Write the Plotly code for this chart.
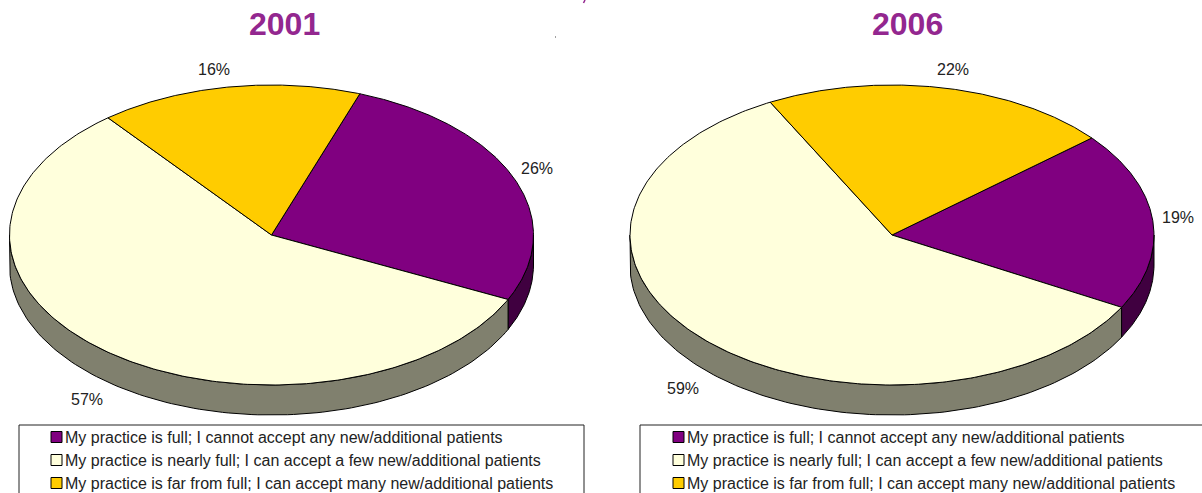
import numpy as np
import plotly.graph_objects as go

# ---- data ----
categories = [
    "My practice is full; I cannot accept any new/additional patients",
    "My practice is nearly full; I can accept a few new/additional patients",
    "My practice is far from full; I can accept many new/additional patients",
]
years = ["2001", "2006"]
shares_2001 = [26.6, 57.2, 16.2]
shares_2006 = [19.2, 59.3, 21.5]
labels_2001 = ["26%", "57%", "16%"]
labels_2006 = ["19%", "59%", "22%"]

# ---- styling / layout ----
colors = ["#800080", "#FFFFDC", "#FFCC00"]
side_colors = ["#400040", "#80806E", "#806600"]
title_color = "#93278F"
text_color = "#222222"
FONT = "Liberation Sans, Arial, sans-serif"
RX, RY, DEPTH = 262, 150, 30
CY = 235
pies = [
    dict(cx=271.5, start=19.7, shares=shares_2001, labels=labels_2001, year=years[0],
         label_xy=[(537, 168), (87, 399), (214, 69)], title_x=284.5,
         box=(19, 584), swatch_x=51, text_x=63),
    dict(cx=892, start=49.7, shares=shares_2006, labels=labels_2006, year=years[1],
         label_xy=[(1178, 217), (683, 388), (953, 69)], title_x=907,
         box=(640, 1260), swatch_x=673, text_x=685),
]
ROWS_Y = [437, 460, 483]


def pt(cx, deg, dy=0.0):
    t = np.radians(deg)
    return cx + RX * np.sin(t), CY - RY * np.cos(t) + dy


fig = go.Figure()
shapes, annotations = [], []
LINE = dict(color="black", width=1)

for p in pies:
    cx = p["cx"]
    edges = p["start"] + np.concatenate([[0], np.cumsum(p["shares"]) * 3.6])
    # rim (visible lower half of the disc, angles 90..270 from the top)
    for i, name in enumerate(categories):
        a0, a1 = max(edges[i], 90), min(edges[i + 1], 270)
        if a1 > a0:
            th = np.linspace(a0, a1, 120)
            x0, y0 = pt(cx, th)
            x1, y1 = pt(cx, th[::-1], DEPTH)
            fig.add_trace(go.Scatter(
                x=np.r_[x0, x1, x0[0]], y=np.r_[y0, y1, y0[0]], mode="lines",
                fill="toself", fillcolor=side_colors[i], line=LINE,
                showlegend=False, hoverinfo="skip"))
    # top faces
    for i, name in enumerate(categories):
        th = np.linspace(edges[i], edges[i + 1], 240)
        x, y = pt(cx, th)
        fig.add_trace(go.Scatter(
            x=np.r_[cx, x, cx], y=np.r_[CY, y, CY], mode="lines",
            fill="toself", fillcolor=colors[i], line=LINE,
            name=f"{p['year']}: {name}", text=p["labels"][i], hoverinfo="name+text",
            showlegend=False))
        annotations.append(dict(
            x=p["label_xy"][i][0], y=p["label_xy"][i][1], text=p["labels"][i],
            showarrow=False, xanchor="center", yanchor="middle",
            font=dict(family=FONT, size=16, color=text_color)))
    # title
    annotations.append(dict(
        x=p["title_x"], y=24, text=f"<b>{p['year']}</b>", showarrow=False,
        xanchor="center", yanchor="middle",
        font=dict(family=FONT, size=32, color=title_color)))
    # legend
    shapes.append(dict(type="rect", x0=p["box"][0], x1=p["box"][1], y0=425, y1=520,
                       line=dict(color="#222222", width=1), fillcolor="white", layer="below"))
    for i, name in enumerate(categories):
        y = ROWS_Y[i]
        shapes.append(dict(type="rect", x0=p["swatch_x"], x1=p["swatch_x"] + 11,
                           y0=y - 5.5, y1=y + 5.5, line=LINE, fillcolor=colors[i]))
        annotations.append(dict(
            x=p["text_x"], y=y, text=name, showarrow=False, xanchor="left", yanchor="middle",
            font=dict(family=FONT, size=16, color=text_color)))

# stray specks present in the source image
shapes.append(dict(type="line", x0=585, x1=583.5, y0=0, y1=3, line=dict(color=title_color, width=1.5)))
shapes.append(dict(type="line", x0=555, x1=556, y0=37, y1=37, line=dict(color="#444444", width=1)))

fig.update_layout(
    width=1202, height=493, margin=dict(l=0, r=0, t=0, b=0),
    paper_bgcolor="white", plot_bgcolor="white",
    xaxis=dict(range=[0, 1202], visible=False, fixedrange=True),
    yaxis=dict(range=[493, 0], visible=False, fixedrange=True),
    shapes=shapes, annotations=annotations, showlegend=False,
)
fig.write_html("out.html", config=dict(displayModeBar=False),
               post_script="document.body.style.margin='0';")
